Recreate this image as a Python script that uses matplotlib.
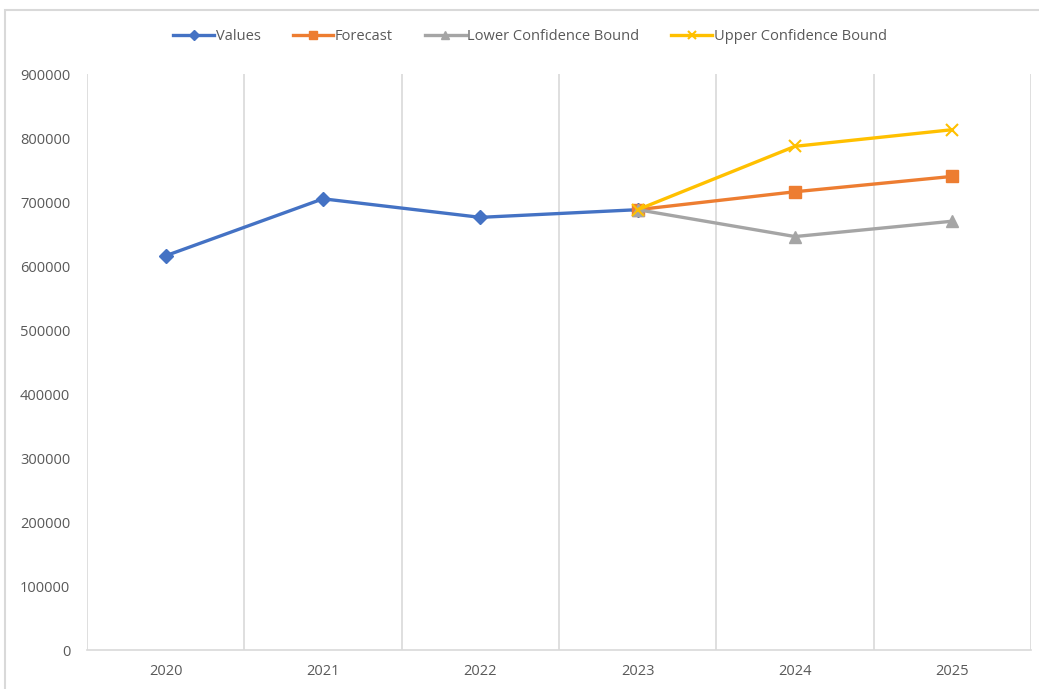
import numpy as np
import matplotlib
matplotlib.use("Agg")
import matplotlib.pyplot as plt
from matplotlib.patches import Rectangle

# data
years = ["2020", "2021", "2022", "2023", "2024", "2025"]
values = [616000, 705000, 676000, 688000, np.nan, np.nan]
forecast = [np.nan, np.nan, np.nan, 688000, 716000, 740000]
lower_bound = [np.nan, np.nan, np.nan, 688000, 646000, 670000]
upper_bound = [np.nan, np.nan, np.nan, 688000, 787000, 813000]
y_ticks = [0, 100000, 200000, 300000, 400000, 500000, 600000, 700000, 800000, 900000]

plt.rcParams["font.family"] = ["Open Sans", "DejaVu Sans"]
TXT = "#595959"
GRID = "#D9D9D9"

fig = plt.figure(figsize=(10.39, 6.89), dpi=100)
fig.patch.set_facecolor("white")
ax = fig.add_axes([87 / 1039, 39 / 689, (1031 - 87) / 1039, (650 - 74) / 689])

x = np.arange(len(years))
lw = 2.4
ax.plot(x, values, color="#4472C4", lw=lw, marker="D", ms=7, label="Values", zorder=3)
ax.plot(x, forecast, color="#ED7D31", lw=lw, marker="s", ms=8, label="Forecast", zorder=4)
ax.plot(x, lower_bound, color="#A5A5A5", lw=lw, marker="^", ms=8,
        label="Lower Confidence Bound", zorder=5)
ax.plot(x, upper_bound, color="#FFC000", lw=lw, marker="x", ms=8, mew=1.5,
        label="Upper Confidence Bound", zorder=6)

ax.set_xlim(-0.5, len(years) - 0.5)
ax.set_ylim(0, 900000)
ax.set_yticks(y_ticks)
ax.set_yticklabels([str(v) for v in y_ticks], fontsize=10.5, color=TXT)
ax.set_xticks(x)
ax.set_xticklabels(years, fontsize=10.5, color=TXT)
ax.tick_params(axis="both", length=0)
ax.tick_params(axis="y", pad=12)
ax.tick_params(axis="x", pad=10)

# vertical gridlines between categories
for b in np.arange(-0.5, len(years), 1.0):
    ax.axvline(b, color=GRID, lw=1.2, zorder=1)

for s in ["top", "right", "left"]:
    ax.spines[s].set_visible(False)
ax.spines["bottom"].set_color(GRID)
ax.spines["bottom"].set_linewidth(1.2)

fig.legend(loc="center", bbox_to_anchor=(530 / 1039, 1 - 37 / 689), ncol=4,
           frameon=False, fontsize=10.5, handlelength=2.8, handletextpad=0.1,
           columnspacing=2.2, labelcolor=TXT, markerscale=0.75)

# chart area border (cropped at right/bottom)
fig.add_artist(Rectangle((4.5 / 1039, -0.2), 1.5, 1.2 - 9.5 / 689,
                         transform=fig.transFigure, fill=False,
                         edgecolor=GRID, lw=1.5))

fig.savefig("out.png", dpi=100, facecolor="white")
